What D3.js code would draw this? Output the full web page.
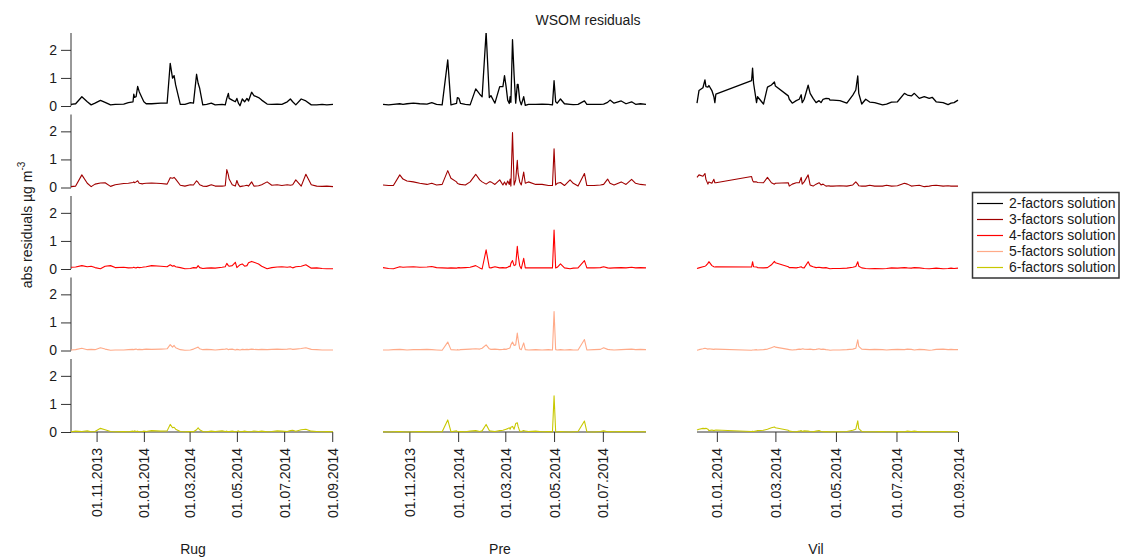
<!DOCTYPE html>
<html><head><meta charset="utf-8">
<script src="https://cdn.jsdelivr.net/npm/d3@7"></script>
<style>
body{margin:0;background:#fff}
svg{display:block}
text{font-family:"Liberation Sans",Arial,Helvetica,sans-serif;fill:#1a1a1a}
</style>
</head><body>
<svg id="chart" width="1123" height="558"></svg>
<script>
// ---------------- data ----------------
const solutions = ["2-factors solution","3-factors solution","4-factors solution","5-factors solution","6-factors solution"];
const sites = ["Rug","Pre","Vil"];
const yTicks = [0,1,2];
// sample days counted from 2013-09-01
const rugDays = [28,34,42,49,54,59,66,72,79,85,96,102,108,109,110,112,114,116,120,122,125,132,144,152,156,159,161,163,169,175,182,186,190,192,194,198,203,209,214,223,227,229,231,232,236,240,242,244,246,249,252,255,257,261,264,270,274,281,287,294,300,307,311,314,318,325,331,338,345,352,358,366];
const rug2 = [0.06,0.08,0.33,0.15,0.04,0.10,0.20,0.13,0.04,0.06, 0.07,0.12,0.15,0.42,0.31,0.33,0.70,0.51,0.27,0.15, 0.08,0.08,0.10,0.10,1.52,0.99,1.08,0.75,0.06,0.06, 0.12,0.10,1.13,0.81,0.63,0.04,0.06,0.10,0.04,0.06, 0.04,0.27,0.45,0.27,0.21,0.15,0.27,0.10,0.01,0.25, 0.15,0.27,0.18,0.49,0.37,0.30,0.21,0.07,0.06,0.07, 0.06,0.15,0.25,0.15,0.04,0.25,0.18,0.04,0.04,0.06, 0.04,0.06];
const rug3 = [0.03,0.05,0.45,0.15,0.03,0.12,0.16,0.17,0.04,0.10, 0.14,0.15,0.18,0.20,0.17,0.20,0.24,0.15,0.13,0.14, 0.15,0.16,0.14,0.12,0.35,0.33,0.36,0.30,0.08,0.05, 0.10,0.09,0.24,0.18,0.10,0.05,0.04,0.10,0.05,0.05, 0.06,0.64,0.45,0.30,0.10,0.05,0.25,0.10,0.03,0.05, 0.06,0.08,0.05,0.20,0.05,0.06,0.10,0.20,0.08,0.10, 0.07,0.10,0.08,0.10,0.27,0.05,0.47,0.10,0.05,0.04, 0.05,0.03];
const rug4 = [0.06,0.07,0.12,0.08,0.10,0.05,0.01,0.10,0.12,0.05, 0.06,0.04,0.05,0.06,0.05,0.04,0.06,0.05,0.06,0.07, 0.08,0.12,0.10,0.08,0.15,0.10,0.12,0.08,0.05,0.01, 0.02,0.05,0.04,0.12,0.05,0.02,0.03,0.04,0.03,0.06, 0.08,0.20,0.12,0.10,0.12,0.24,0.05,0.10,0.15,0.18, 0.10,0.12,0.22,0.27,0.24,0.18,0.10,0.01,0.05,0.07, 0.08,0.06,0.08,0.04,0.08,0.10,0.15,0.03,0.04,0.02, 0.01,0.01];
const rug5 = [0.02,0.03,0.08,0.03,0.04,0.03,0.10,0.05,0.01,0.02, 0.02,0.03,0.04,0.03,0.04,0.05,0.03,0.04,0.03,0.04, 0.05,0.04,0.05,0.06,0.21,0.12,0.18,0.10,0.03,0.01, 0.02,0.05,0.10,0.12,0.06,0.03,0.04,0.03,0.02,0.04, 0.05,0.06,0.03,0.04,0.05,0.02,0.04,0.03,0.02,0.04, 0.03,0.04,0.03,0.05,0.04,0.03,0.04,0.03,0.04,0.05, 0.04,0.05,0.06,0.04,0.05,0.07,0.10,0.04,0.03,0.02, 0.02,0.02];
const rug6 = [0.01,0.03,0.02,0.04,0.01,0.02,0.13,0.08,0.02,0.01, 0.02,0.01,0.03,0.02,0.04,0.02,0.03,0.01,0.02,0.03, 0.02,0.05,0.03,0.04,0.27,0.15,0.17,0.10,0.02,0.01, 0.02,0.01,0.08,0.15,0.08,0.02,0.01,0.03,0.02,0.04, 0.02,0.03,0.01,0.02,0.03,0.01,0.02,0.04,0.01,0.02, 0.03,0.02,0.01,0.02,0.03,0.02,0.03,0.01,0.02,0.04, 0.03,0.02,0.05,0.06,0.03,0.08,0.10,0.03,0.02,0.01, 0.02,0.01];

const preDays = [28,35,41,49,53,58,66,74,83,89,95,102,109,113,120,121,123,125,131,137,144,149,152,157,161,163,168,174,178,180,182,184,186,187,188,190,192,194,196,197,199,201,204,206,210,219,227,235,240,242,244,246,250,255,262,266,272,280,283,292,300,304,309,312,317,326,332,339,344,350,357];
const pre2 = [0.06,0.04,0.06,0.08,0.06,0.08,0.10,0.08,0.07,0.12, 0.06,0.04,1.64,0.04,0.09,0.30,0.27,0.09,0.06,0.04, 0.61,0.42,0.33,2.63,0.30,0.37,0.10,0.69,0.69,1.08, 0.69,0.21,0.09,0.33,0.13,2.36,1.10,0.10,0.77,0.77, 0.21,0.04,0.33,0.02,0.06,0.06,0.07,0.06,0.04,0.90, 0.15,0.10,0.25,0.08,0.06,0.05,0.06,0.18,0.06,0.06, 0.06,0.07,0.13,0.21,0.10,0.18,0.08,0.15,0.06,0.08, 0.06];
const pre3 = [0.09,0.07,0.07,0.45,0.30,0.23,0.20,0.15,0.11,0.15, 0.09,0.11,0.60,0.33,0.20,0.15,0.12,0.11,0.09,0.20, 0.47,0.27,0.20,0.12,0.20,0.20,0.11,0.27,0.09,0.20, 0.09,0.23,0.11,0.30,0.05,1.96,0.09,0.27,0.97,0.50, 0.20,0.09,0.55,0.15,0.20,0.11,0.11,0.07,0.07,1.38, 0.09,0.15,0.18,0.07,0.27,0.15,0.05,0.50,0.07,0.07, 0.09,0.11,0.30,0.15,0.09,0.20,0.11,0.29,0.15,0.11, 0.09];
const pre4 = [0.05,0.02,0.01,0.08,0.06,0.07,0.08,0.06,0.07,0.09, 0.05,0.04,0.03,0.04,0.03,0.04,0.05,0.04,0.05,0.06, 0.12,0.04,0.00,0.68,0.05,0.04,0.08,0.04,0.05,0.04, 0.04,0.06,0.10,0.08,0.20,0.30,0.12,0.15,0.81,0.50, 0.12,0.01,0.38,0.04,0.04,0.04,0.04,0.04,0.04,1.39, 0.04,0.06,0.18,0.04,0.01,0.03,0.04,0.30,0.04,0.04, 0.05,0.08,0.04,0.03,0.04,0.05,0.04,0.06,0.04,0.05, 0.04];
const pre5 = [0.02,0.02,0.03,0.04,0.03,0.02,0.03,0.03,0.04,0.03, 0.02,0.01,0.30,0.03,0.02,0.03,0.02,0.03,0.04,0.05, 0.06,0.05,0.08,0.20,0.06,0.04,0.05,0.03,0.04,0.05, 0.04,0.06,0.08,0.10,0.20,0.30,0.18,0.20,0.62,0.40, 0.06,0.03,0.27,0.03,0.02,0.03,0.02,0.03,0.02,1.39, 0.03,0.02,0.03,0.02,0.03,0.02,0.02,0.39,0.02,0.03, 0.04,0.10,0.04,0.03,0.02,0.03,0.04,0.05,0.03,0.04, 0.03];
const pre6 = [0.01,0.00,0.01,0.02,0.01,0.00,0.01,0.02,0.01,0.00, 0.01,0.01,0.43,0.01,0.04,0.02,0.01,0.02,0.01,0.03, 0.05,0.02,0.04,0.27,0.05,0.03,0.02,0.05,0.06,0.08, 0.10,0.12,0.15,0.10,0.17,0.20,0.10,0.30,0.33,0.20, 0.03,0.02,0.05,0.03,0.02,0.03,0.01,0.02,0.01,1.29, 0.01,0.00,0.02,0.01,0.00,0.01,0.02,0.39,0.01,0.00, 0.02,0.04,0.01,0.02,0.01,0.02,0.01,0.02,0.01,0.01, 0.01];

const vilDays = [102,104,108,110,111,113,114,117,119,120,121,157,158,159,162,163,169,173,177,180,181,194,195,198,202,205,207,208,210,214,216,219,222,225,227,229,232,235,236,239,246,253,259,262,264,265,268,272,276,281,289,293,298,304,311,314,318,321,326,331,336,339,343,350,355,358,361,365];
const vil2 = [0.10,0.55,0.65,0.93,0.69,0.67,0.73,0.55,0.33,0.12, 0.42,0.90,1.35,0.81,0.12,0.33,0.07,0.67,0.75,0.86, 0.71,0.36,0.24,0.10,0.19,0.24,0.40,0.12,0.24,0.74, 0.45,0.27,0.12,0.19,0.12,0.24,0.27,0.26,0.21,0.21, 0.19,0.10,0.39,0.57,1.07,0.45,0.07,0.24,0.14,0.12, 0.04,0.07,0.14,0.15,0.45,0.39,0.36,0.45,0.27,0.33, 0.27,0.31,0.15,0.12,0.05,0.10,0.12,0.21];
const vil3 = [0.36,0.45,0.40,0.50,0.29,0.12,0.20,0.15,0.29,0.17, 0.17,0.39,0.25,0.20,0.20,0.18,0.17,0.36,0.17,0.12, 0.15,0.17,0.05,0.12,0.17,0.17,0.36,0.12,0.20,0.45, 0.09,0.05,0.12,0.17,0.09,0.12,0.05,0.06,0.05,0.05, 0.06,0.05,0.09,0.20,0.12,0.06,0.05,0.05,0.08,0.05, 0.05,0.08,0.05,0.06,0.15,0.12,0.05,0.06,0.08,0.03, 0.05,0.07,0.08,0.05,0.06,0.05,0.05,0.05];
const vil4 = [0.02,0.04,0.08,0.10,0.12,0.20,0.26,0.12,0.08,0.07, 0.08,0.07,0.26,0.08,0.07,0.05,0.04,0.05,0.15,0.27, 0.22,0.08,0.05,0.05,0.04,0.06,0.08,0.05,0.04,0.26, 0.12,0.08,0.05,0.06,0.05,0.04,0.05,0.02,0.01,0.02, 0.02,0.03,0.06,0.09,0.26,0.10,0.04,0.02,0.01,0.02, 0.01,0.02,0.04,0.03,0.05,0.04,0.03,0.05,0.04,0.02, 0.01,0.02,0.03,0.01,0.02,0.03,0.02,0.03];
const vil5 = [0.01,0.03,0.06,0.08,0.07,0.05,0.06,0.05,0.04,0.05, 0.05,0.01,0.02,0.02,0.03,0.02,0.03,0.05,0.10,0.14, 0.12,0.04,0.03,0.02,0.03,0.05,0.04,0.06,0.05,0.04, 0.05,0.03,0.04,0.06,0.04,0.05,0.03,0.02,0.01,0.02, 0.02,0.03,0.05,0.08,0.38,0.15,0.05,0.04,0.03,0.04, 0.03,0.02,0.03,0.04,0.03,0.05,0.04,0.02,0.04,0.03, 0.01,0.02,0.04,0.05,0.03,0.04,0.03,0.03];
const vil6 = [0.07,0.10,0.13,0.12,0.13,0.10,0.05,0.07,0.05,0.06, 0.07,0.02,0.03,0.02,0.04,0.05,0.06,0.10,0.15,0.18, 0.15,0.06,0.03,0.02,0.01,0.03,0.05,0.02,0.04,0.03, 0.02,0.01,0.03,0.05,0.02,0.01,0.02,0.01,0.00,0.01, 0.01,0.02,0.06,0.10,0.40,0.12,0.02,0.01,0.01,0.01, 0.02,0.01,0.01,0.02,0.01,0.03,0.02,0.03,0.01,0.02, 0.01,0.02,0.01,0.02,0.01,0.01,0.02,0.01];

const rugTicks = ["2013-11-01","2014-01-01","2014-03-01","2014-05-01","2014-07-01","2014-09-01"];
const preTicks = ["2013-11-01","2014-01-01","2014-03-01","2014-05-01","2014-07-01"];
const vilTicks = ["2014-01-01","2014-03-01","2014-05-01","2014-07-01","2014-09-01"];

// ---------------- layout / style ----------------
const colors = ["#000000","#a00000","#ff0000","#ffaa88","#c8c800"];
const panelX = [[71,333],[383,646],[697,958]];
const rowZero = [106,187.5,269,350.5,432];
const panelH = 73;
const yMax = 2.6;

const base = Date.UTC(2013,8,1);
const toDate = d => new Date(base + d*864e5);
const parse = d3.utcParse("%Y-%m-%d");
const fmt = d3.utcFormat("%d.%m.%Y");

const siteData = [
  {name:"Rug", days:rugDays, series:[rug2,rug3,rug4,rug5,rug6], ticks:rugTicks, label:193},
  {name:"Pre", days:preDays, series:[pre2,pre3,pre4,pre5,pre6], ticks:preTicks, label:500},
  {name:"Vil", days:vilDays, series:[vil2,vil3,vil4,vil5,vil6], ticks:vilTicks, label:816}
];

const svg = d3.select("#chart");
svg.append("rect").attr("width",1123).attr("height",558).attr("fill","#fff");
const defs = svg.append("defs");

siteData.forEach((s,si)=>{
  const [x0,x1] = panelX[si];
  const x = d3.scaleUtc().domain([toDate(s.days[0]), toDate(s.days[s.days.length-1])]).range([x0,x1]);
  s.series.forEach((vals,ri)=>{
    const y0 = rowZero[ri];
    const y = d3.scaleLinear().domain([0,yMax]).range([y0, y0-panelH]);
    const cid = `clip-${si}-${ri}`;
    defs.append("clipPath").attr("id",cid).append("rect")
      .attr("x",x0-1).attr("y",y0-panelH).attr("width",x1-x0+2).attr("height",panelH+2);
    const pts = s.days.map((d,i)=>({t:toDate(d), v:vals[i]}));
    // y axis only on first column
    if(si===0){
      const ax = svg.append("g").attr("transform",`translate(${x0},0)`)
        .call(d3.axisLeft(y).tickValues(yTicks).tickSize(10).tickPadding(4).tickFormat(d3.format("d")));
      ax.select(".domain").attr("stroke","#333").attr("d",`M0,${y0}V${y0-panelH}`);
      ax.selectAll(".tick line").attr("stroke","#333");
      ax.selectAll(".tick text").attr("font-size",14).attr("font-family",'"Liberation Sans",Arial,sans-serif').attr("fill","#1a1a1a");
    }
    if(ri===4){
      const axb = svg.append("g").attr("transform",`translate(0,${y0})`)
        .call(d3.axisBottom(x).tickValues(s.ticks.map(parse)).tickSize(10).tickFormat(fmt));
      axb.select(".domain").attr("stroke","#333").attr("d",`M${x0},0H${x1}`);
      axb.selectAll(".tick line").attr("stroke","#333");
      axb.selectAll(".tick text")
        .attr("font-size",14).attr("font-family",'"Liberation Sans",Arial,sans-serif').attr("fill","#1a1a1a")
        .attr("text-anchor","end").attr("transform","translate(5,16) rotate(-90)").attr("x",0).attr("y",0).attr("dy",null);
    }
    svg.append("path").datum(pts)
      .attr("clip-path",`url(#${cid})`)
      .attr("fill","none").attr("stroke",colors[ri]).attr("stroke-width",ri===0?1.3:1.1)
      .attr("stroke-linejoin","round")
      .attr("d", d3.line().x(d=>x(d.t)).y(d=>y(d.v)));
  });
  svg.append("text").attr("x",s.label).attr("y",554).attr("text-anchor","middle").attr("font-size",14).text(s.name);
});

// title
svg.append("text").attr("x",588).attr("y",25).attr("text-anchor","middle").attr("font-size",14).text("WSOM residuals");

// y label
const yl = svg.append("text").attr("transform","translate(32,225) rotate(-90)").attr("text-anchor","middle").attr("font-size",14);
yl.append("tspan").text("abs residuals µg m");
yl.append("tspan").attr("font-size",10).attr("dy","-0.7em").text("-3");

// legend
const lg = svg.append("g");
lg.append("rect").attr("x",972.5).attr("y",192.5).attr("width",146.5).attr("height",85.5)
  .attr("fill","#fff").attr("stroke","#333").attr("stroke-width",1.5);
solutions.forEach((name,i)=>{
  const ly = 203.5 + i*16;
  lg.append("line").attr("x1",977).attr("x2",1003).attr("y1",ly).attr("y2",ly).attr("stroke",colors[i]).attr("stroke-width",1.2);
  lg.append("text").attr("x",1009).attr("y",ly).attr("dy","0.35em").attr("font-size",14).text(name);
});
</script>
</body></html>
